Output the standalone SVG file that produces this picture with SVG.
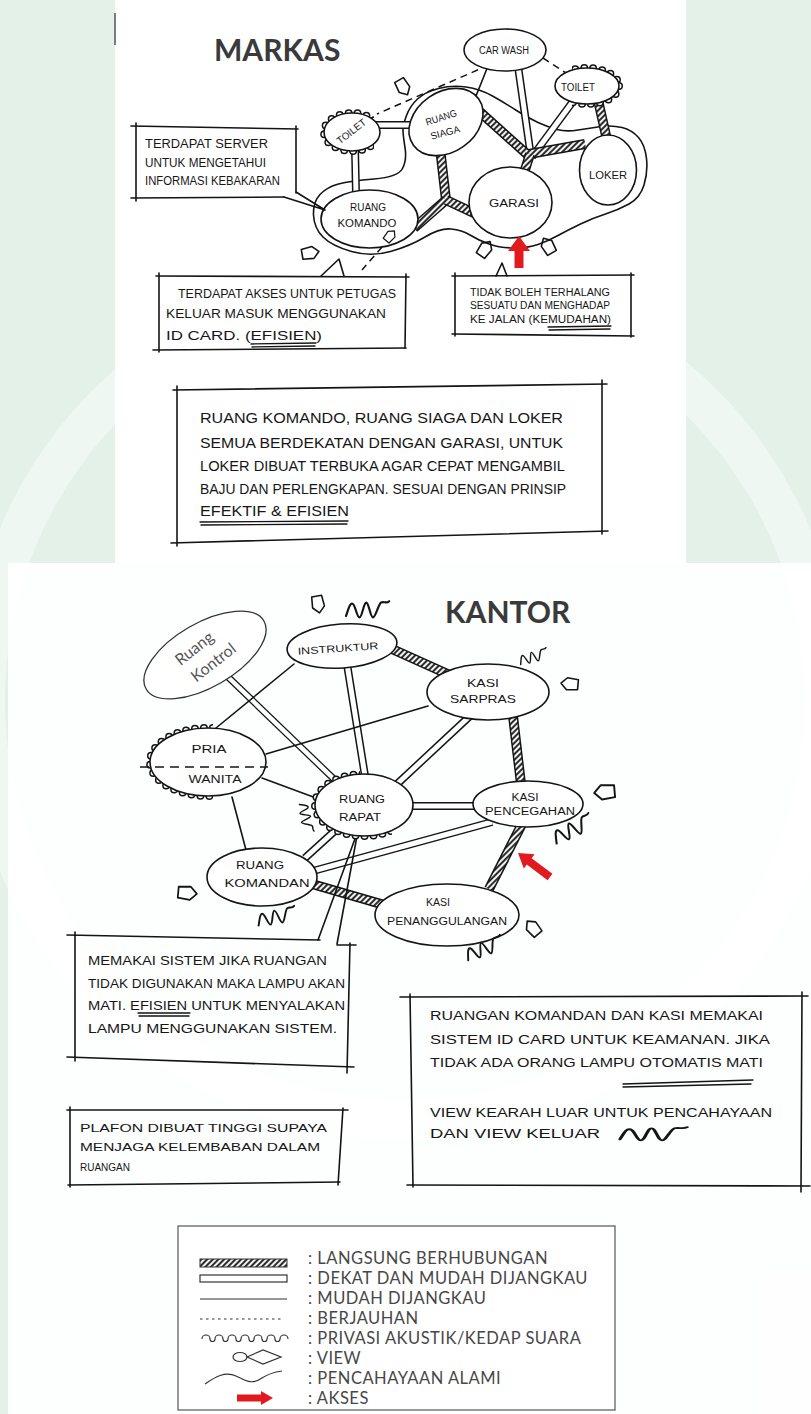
<svg xmlns="http://www.w3.org/2000/svg" width="811" height="1414" viewBox="0 0 811 1414">
<defs>
<style>
.ink{fill:none;stroke:#141414;stroke-width:1.6;stroke-linecap:round;stroke-linejoin:round}
.thin{fill:none;stroke:#141414;stroke-width:1.3;stroke-linecap:round}
.node{fill:#fff;stroke:#141414;stroke-width:1.6}
.hw{font-family:"Liberation Sans",Arial,sans-serif;fill:#161616}
.title{font-family:Lato,"Open Sans",sans-serif;font-weight:700;fill:#3a3a3a;font-size:30px}
.leg{font-family:Lato,"Open Sans",sans-serif;fill:#474747;font-size:16.5px;letter-spacing:0.5px}
.dO{stroke:#141414;stroke-width:8}
.dI{stroke:#fff;stroke-width:5}
.hO{stroke:#141414;stroke-width:10}
.hI{stroke:url(#hatch);stroke-width:7}
.dash{fill:none;stroke:#141414;stroke-width:1.5;stroke-dasharray:7 5}
.bO{fill:none;stroke:#141414;stroke-width:8;stroke-linecap:round;stroke-dasharray:0 9}
.bI{fill:none;stroke:#fff;stroke-width:5;stroke-linecap:round;stroke-dasharray:0 9}
.red{fill:#e01a1f}
</style>
<pattern id="hatch" width="4" height="4" patternUnits="userSpaceOnUse" patternTransform="rotate(45)">
<rect width="4" height="4" fill="#f2f2f2"/>
<line x1="1" y1="0" x2="1" y2="4" stroke="#222" stroke-width="1.9"/>
</pattern>
<path id="vw" d="M-8,-5 L3,-6 L9,0 L3,6 L-8,5 Z"/>
<path id="sq" d="M0,3 C2,-3 3,-7 5,-6 C7,-5 8,4 10,4 C12,4 13,-7 15,-7 C17,-7 18,4 20,4 C22,4 24,-6 26,-7 C28,-8 30,-6 32,-8"/>
<clipPath id="cTL"><rect x="300" y="100" width="74" height="70"/></clipPath>
<clipPath id="cTR"><rect x="572" y="55" width="60" height="60"/></clipPath>
<clipPath id="cPria"><rect x="130" y="715" width="83" height="95"/></clipPath>
<clipPath id="cRapat"><polygon points="300,765 360,765 360,815 392,815 392,850 300,850"/></clipPath>
</defs>

<!-- background -->
<rect x="0" y="0" width="811" height="1414" fill="#e3f1e8"/>
<circle cx="405" cy="700" r="420" fill="none" stroke="#eef7f1" stroke-width="40"/>
<rect x="115" y="0" width="571" height="563" fill="#fff"/>
<rect x="8" y="563" width="803" height="851" fill="#fff" fill-opacity="0.93"/>
<line x1="115" y1="13" x2="115" y2="45" stroke="#555" stroke-width="1.5"/>

<!-- ================= MARKAS ================= -->
<text class="title" x="214" y="61">MARKAS</text>

<g id="markas-zone">
<path class="ink" d="M405,147.5 Q407,160 402.5,168.5 Q398,177 374,179 Q350,181 338.5,184 Q327,187 320,194.5 Q313,202 313.5,215 Q314,228 323,237 Q332,246 351.5,251.5 Q371,257 390.5,251.5 Q410,246 425,237 Q440,228 451,229 Q462,230 470,235 Q478,240 489,244 Q500,248 514,248 Q528,248 538,244.5 Q548,241 558,235.5 Q568,230 580.5,224 Q593,218 605.5,214 Q618,210 629,204 Q640,198 644,185 Q648,172 646.5,158.5 Q645,145 638.5,137.5 Q632,130 622,127.5 Q612,125 601,126.5 Q590,128 578,130 Q566,132 557,129.5 Q548,127 538,122.5 Q528,118 516.5,110.5 Q505,103 492.5,96 Q480,89 466,87 Q452,85 438.5,88.5 Q425,92 417.5,99 Q410,106 406.5,115.5 Q403,125 403,130 Q403,135 405,147.5 Z"/>
</g>

<g id="markas-connectors">
<line class="dash" x1="489" y1="65" x2="377" y2="114"/>
<line class="dash" x1="543" y1="58" x2="566" y2="73"/>
<line class="ink" x1="488" y1="66" x2="476" y2="96"/>
<line class="dO" x1="518" y1="66" x2="531" y2="157"/>
<line class="dI" x1="518" y1="66" x2="531" y2="157"/>
<line class="dO" x1="574" y1="100" x2="532" y2="157"/>
<line class="dI" x1="574" y1="100" x2="532" y2="157"/>
<line class="dO" x1="376" y1="125" x2="414" y2="125"/>
<line class="dI" x1="376" y1="125" x2="414" y2="125"/>
<line class="dO" x1="355" y1="148" x2="356" y2="194"/>
<line class="dI" x1="355" y1="148" x2="356" y2="194"/>
<line class="hO" x1="598" y1="100" x2="607" y2="140"/>
<line class="hI" x1="598" y1="100" x2="607" y2="140"/>
<line class="hO" x1="480" y1="112" x2="529" y2="156"/>
<line class="hI" x1="480" y1="112" x2="529" y2="156"/>
<line class="hO" x1="529" y1="154" x2="585" y2="144"/>
<line class="hI" x1="529" y1="154" x2="585" y2="144"/>
<line class="hO" x1="530" y1="154" x2="524" y2="173"/>
<line class="hI" x1="530" y1="154" x2="524" y2="173"/>
<line class="hO" x1="440" y1="148" x2="446" y2="200"/>
<line class="hI" x1="440" y1="148" x2="446" y2="200"/>
<line class="hO" x1="446" y1="200" x2="414" y2="228"/>
<line class="hI" x1="446" y1="200" x2="414" y2="228"/>
<line class="hO" x1="446" y1="200" x2="476" y2="214"/>
<line class="hI" x1="446" y1="200" x2="476" y2="214"/>
<line class="dash" x1="390" y1="238" x2="362" y2="270"/>
</g>

<g id="car-wash">
<ellipse class="node" cx="505" cy="50" rx="41" ry="21"/>
<text class="hw" x="504" y="54" font-size="10" text-anchor="middle" textLength="50" lengthAdjust="spacingAndGlyphs">CAR WASH</text>
</g>
<g id="toilet-kanan">
<g clip-path="url(#cTR)"><ellipse class="bO" cx="587" cy="86" rx="32" ry="18"/><ellipse class="bI" cx="587" cy="86" rx="32" ry="18"/></g>
<ellipse class="node" cx="587" cy="86" rx="32" ry="18"/>
<text class="hw" x="578" y="91" font-size="10" text-anchor="middle" textLength="34" lengthAdjust="spacingAndGlyphs">TOILET</text>
</g>
<g id="toilet-kiri">
<g clip-path="url(#cTL)"><ellipse class="bO" cx="352" cy="132" rx="28" ry="19"/><ellipse class="bI" cx="352" cy="132" rx="28" ry="19"/></g>
<ellipse class="node" cx="352" cy="132" rx="28" ry="19"/>
<text class="hw" x="351" y="135" font-size="10" text-anchor="middle" textLength="34" lengthAdjust="spacingAndGlyphs" transform="rotate(-38 351 131)">TOILET</text>
</g>
<g id="ruang-siaga">
<ellipse class="node" cx="446" cy="122" rx="40" ry="30" transform="rotate(-35 446 122)"/>
<text class="hw" x="441" y="121" font-size="10" text-anchor="middle" textLength="32" lengthAdjust="spacingAndGlyphs" transform="rotate(-18 441 117)">RUANG</text>
<text class="hw" x="445" y="136" font-size="10" text-anchor="middle" textLength="30" lengthAdjust="spacingAndGlyphs" transform="rotate(-15 445 132)">SIAGA</text>
</g>
<g id="garasi">
<ellipse class="node" cx="510.5" cy="202.5" rx="41.5" ry="35.5"/>
<text class="hw" x="514" y="207" font-size="11" text-anchor="middle" textLength="50" lengthAdjust="spacingAndGlyphs">GARASI</text>
</g>
<g id="loker">
<ellipse class="node" cx="608" cy="170" rx="28.5" ry="35"/>
<text class="hw" x="608" y="179" font-size="10" text-anchor="middle" textLength="38" lengthAdjust="spacingAndGlyphs">LOKER</text>
</g>
<g id="ruang-komando">
<ellipse class="node" cx="369.5" cy="219" rx="48.5" ry="29"/>
<text class="hw" x="368" y="211" font-size="10" text-anchor="middle" textLength="36" lengthAdjust="spacingAndGlyphs">RUANG</text>
<text class="hw" x="367" y="227" font-size="10" text-anchor="middle" textLength="59" lengthAdjust="spacingAndGlyphs">KOMANDO</text>
</g>

<g id="markas-icons">
<use href="#vw" class="ink" transform="translate(403,87) rotate(60)"/>
<use href="#vw" class="ink" transform="translate(310,253) rotate(-10)"/>
<use href="#vw" class="ink" transform="translate(390,236) rotate(-50) scale(0.75)"/>
<use href="#vw" class="ink" transform="translate(485,249) rotate(-55)"/>
<use href="#vw" class="ink" transform="translate(548,246) rotate(-120)"/>
<polygon class="red" points="519,236 530,251 523.5,251 523.5,268 514.5,268 514.5,251 508,251"/>
</g>

<g id="callout-server">
<line class="ink" x1="131" y1="126" x2="298" y2="129"/>
<line class="ink" x1="136" y1="123" x2="136" y2="201"/>
<line class="ink" x1="296" y1="126" x2="296" y2="193"/>
<line class="ink" x1="131" y1="198" x2="284" y2="197"/>
<polyline class="ink" points="284,197 325,210 296,192"/>
<text class="hw" x="145" y="148" font-size="12" textLength="123" lengthAdjust="spacingAndGlyphs">TERDAPAT  SERVER</text>
<text class="hw" x="145" y="167" font-size="12" textLength="121" lengthAdjust="spacingAndGlyphs">UNTUK MENGETAHUI</text>
<text class="hw" x="145" y="185" font-size="12" textLength="135" lengthAdjust="spacingAndGlyphs">INFORMASI KEBAKARAN</text>
</g>

<g id="callout-akses">
<line class="ink" x1="156" y1="276" x2="409" y2="277"/>
<line class="ink" x1="159" y1="273" x2="159" y2="352"/>
<line class="ink" x1="406" y1="274" x2="405" y2="348"/>
<line class="ink" x1="153" y1="350" x2="406" y2="348"/>
<polyline class="ink" points="321,276 339,259 344,276"/>
<text class="hw" x="178" y="298" font-size="13" textLength="218" lengthAdjust="spacingAndGlyphs">TERDAPAT AKSES UNTUK PETUGAS</text>
<text class="hw" x="166" y="318" font-size="13" textLength="220" lengthAdjust="spacingAndGlyphs">KELUAR MASUK MENGGUNAKAN</text>
<text class="hw" x="166" y="340" font-size="13" textLength="156" lengthAdjust="spacingAndGlyphs">ID CARD. (EFISIEN)</text>
<line class="thin" x1="251" y1="344" x2="316" y2="343"/>
<line class="thin" x1="252" y1="347" x2="315" y2="346"/>
</g>

<g id="callout-jalan">
<line class="ink" x1="452" y1="276" x2="634" y2="275"/>
<line class="ink" x1="455" y1="273" x2="455" y2="336"/>
<line class="ink" x1="631" y1="273" x2="631" y2="337"/>
<line class="ink" x1="452" y1="334" x2="634" y2="336"/>
<polyline class="ink" points="496,276 502,263 507,276"/>
<text class="hw" x="470" y="296" font-size="10" textLength="140" lengthAdjust="spacingAndGlyphs">TIDAK BOLEH TERHALANG</text>
<text class="hw" x="470" y="309" font-size="10" textLength="140" lengthAdjust="spacingAndGlyphs">SESUATU DAN MENGHADAP</text>
<text class="hw" x="470" y="323" font-size="10" textLength="141" lengthAdjust="spacingAndGlyphs">KE JALAN (KEMUDAHAN)</text>
<line class="thin" x1="548" y1="327" x2="611" y2="326"/>
<line class="thin" x1="549" y1="330" x2="610" y2="329"/>
</g>

<g id="catatan-markas">
<line class="ink" x1="173" y1="390" x2="607" y2="384"/>
<line class="ink" x1="177" y1="386" x2="177" y2="546"/>
<line class="ink" x1="602" y1="380" x2="602" y2="534"/>
<line class="ink" x1="171" y1="543" x2="608" y2="531"/>
<text class="hw" x="200" y="423" font-size="15" textLength="363" lengthAdjust="spacingAndGlyphs">RUANG KOMANDO, RUANG  SIAGA DAN LOKER</text>
<text class="hw" x="200" y="448" font-size="15" textLength="363" lengthAdjust="spacingAndGlyphs">SEMUA BERDEKATAN DENGAN GARASI, UNTUK</text>
<text class="hw" x="200" y="471" font-size="15" textLength="365" lengthAdjust="spacingAndGlyphs">LOKER DIBUAT TERBUKA AGAR CEPAT MENGAMBIL</text>
<text class="hw" x="200" y="494" font-size="15" textLength="366" lengthAdjust="spacingAndGlyphs">BAJU DAN PERLENGKAPAN. SESUAI DENGAN PRINSIP</text>
<text class="hw" x="200" y="516" font-size="15" textLength="149" lengthAdjust="spacingAndGlyphs">EFEKTIF &amp; EFISIEN</text>
<line class="thin" x1="200" y1="522" x2="348" y2="521"/>
<line class="thin" x1="201" y1="525" x2="347" y2="524"/>
</g>

<!-- ================= KANTOR ================= -->
<text class="title" x="445" y="623">KANTOR</text>

<g id="kantor-connectors">
<line class="dO" x1="228" y1="677" x2="337" y2="782" style="stroke-width:7"/>
<line class="dI" x1="228" y1="677" x2="337" y2="782" style="stroke-width:4.5"/>
<line class="ink" x1="294" y1="664" x2="216" y2="728"/>
<line class="dO" x1="347" y1="664" x2="365" y2="776"/>
<line class="dI" x1="347" y1="664" x2="365" y2="776"/>
<line class="hO" x1="392" y1="649" x2="452" y2="676"/>
<line class="hI" x1="392" y1="649" x2="452" y2="676"/>
<line class="ink" x1="428" y1="706" x2="266" y2="754"/>
<line class="dO" x1="470" y1="716" x2="396" y2="785"/>
<line class="dI" x1="470" y1="716" x2="396" y2="785"/>
<line class="hO" x1="513" y1="716" x2="521" y2="784"/>
<line class="hI" x1="513" y1="716" x2="521" y2="784"/>
<line class="ink" x1="262" y1="778" x2="316" y2="798"/>
<line class="ink" x1="232" y1="797" x2="246" y2="850"/>
<line class="dO" x1="410" y1="806" x2="476" y2="806"/>
<line class="dI" x1="410" y1="806" x2="476" y2="806"/>
<line class="dO" x1="338" y1="828" x2="305" y2="858"/>
<line class="dI" x1="338" y1="828" x2="305" y2="858"/>
<line class="dO" x1="313" y1="871" x2="492" y2="822"/>
<line class="dI" x1="313" y1="871" x2="492" y2="822"/>
<line class="hO" x1="312" y1="884" x2="388" y2="906"/>
<line class="hI" x1="312" y1="884" x2="388" y2="906"/>
<line class="hO" x1="522" y1="824" x2="489" y2="889"/>
<line class="hI" x1="522" y1="824" x2="489" y2="889"/>
<line class="ink" x1="356" y1="836" x2="318" y2="940"/>
<line class="ink" x1="357" y1="836" x2="337" y2="944"/>
</g>

<g id="ruang-kontrol">
<ellipse cx="205" cy="655" rx="68" ry="32" transform="rotate(-30 205 655)" fill="#fff" stroke="#333" stroke-width="1.3"/>
<text x="194" y="654" font-family="Lato,'Open Sans',sans-serif" font-size="16" fill="#555" text-anchor="middle" transform="rotate(-38 194 648)">Ruang</text>
<text x="213" y="668" font-family="Lato,'Open Sans',sans-serif" font-size="16" fill="#555" text-anchor="middle" transform="rotate(-38 213 662)">Kontrol</text>
</g>
<g id="instruktur">
<ellipse class="node" cx="342" cy="646" rx="55" ry="22" transform="rotate(-4 342 646)"/>
<text class="hw" x="338" y="652" font-size="10" text-anchor="middle" textLength="81" lengthAdjust="spacingAndGlyphs" transform="rotate(-4 338 648)">INSTRUKTUR</text>
</g>
<g id="kasi-sarpras">
<ellipse class="node" cx="488" cy="692" rx="61" ry="28"/>
<text class="hw" x="483" y="687" font-size="11" text-anchor="middle" textLength="32" lengthAdjust="spacingAndGlyphs">KASI</text>
<text class="hw" x="483" y="703" font-size="11" text-anchor="middle" textLength="66" lengthAdjust="spacingAndGlyphs">SARPRAS</text>
</g>
<g id="pria-wanita">
<g clip-path="url(#cPria)"><ellipse class="bO" cx="208" cy="762" rx="58" ry="34"/><ellipse class="bI" cx="208" cy="762" rx="58" ry="34"/></g>
<ellipse class="node" cx="208" cy="762" rx="58" ry="34"/>
<line x1="140" y1="767" x2="268" y2="767" stroke="#141414" stroke-width="1.5" stroke-dasharray="9 6"/>
<text class="hw" x="209" y="753" font-size="11" text-anchor="middle" textLength="35" lengthAdjust="spacingAndGlyphs">PRIA</text>
<text class="hw" x="215" y="783" font-size="11" text-anchor="middle" textLength="53" lengthAdjust="spacingAndGlyphs">WANITA</text>
</g>
<g id="ruang-rapat">
<g clip-path="url(#cRapat)"><ellipse class="bO" cx="364" cy="805" rx="49" ry="31"/><ellipse class="bI" cx="364" cy="805" rx="49" ry="31"/></g>
<ellipse class="node" cx="364" cy="805" rx="49" ry="31"/>
<text class="hw" x="362" y="803" font-size="11" text-anchor="middle" textLength="46" lengthAdjust="spacingAndGlyphs">RUANG</text>
<text class="hw" x="360" y="821" font-size="11" text-anchor="middle" textLength="42" lengthAdjust="spacingAndGlyphs">RAPAT</text>
</g>
<g id="kasi-pencegahan">
<ellipse class="node" cx="528" cy="804" rx="55" ry="23"/>
<text class="hw" x="525" y="801" font-size="10" text-anchor="middle" textLength="27" lengthAdjust="spacingAndGlyphs">KASI</text>
<text class="hw" x="530" y="815" font-size="10" text-anchor="middle" textLength="90" lengthAdjust="spacingAndGlyphs">PENCEGAHAN</text>
</g>
<g id="ruang-komandan">
<ellipse class="node" cx="262" cy="877" rx="55" ry="29"/>
<text class="hw" x="260" y="869" font-size="11" text-anchor="middle" textLength="48" lengthAdjust="spacingAndGlyphs">RUANG</text>
<text class="hw" x="267" y="887" font-size="11" text-anchor="middle" textLength="85" lengthAdjust="spacingAndGlyphs">KOMANDAN</text>
</g>
<g id="kasi-penanggulangan">
<ellipse class="node" cx="447" cy="915" rx="72" ry="31"/>
<text class="hw" x="438" y="906" font-size="10" text-anchor="middle" textLength="24" lengthAdjust="spacingAndGlyphs">KASI</text>
<text class="hw" x="447" y="925" font-size="10" text-anchor="middle" textLength="120" lengthAdjust="spacingAndGlyphs">PENANGGULANGAN</text>
</g>

<g id="kantor-icons">
<use href="#vw" class="ink" transform="translate(318,604) rotate(80)"/>
<use href="#vw" class="ink" transform="translate(570,684) rotate(185)"/>
<use href="#vw" class="ink" transform="translate(605,792) rotate(175) scale(1.2)"/>
<use href="#vw" class="ink" transform="translate(187,893) rotate(5) scale(1.1)"/>
<use href="#vw" class="ink" transform="translate(533,928) rotate(-130)"/>
<use href="#sq" class="ink" transform="translate(346,612) scale(1.35)"/>
<use href="#sq" class="ink" transform="translate(520,662) rotate(-15) scale(0.9)"/>
<use href="#sq" class="ink" transform="translate(555,840) rotate(-25) scale(1.3)"/>
<use href="#sq" class="ink" transform="translate(302,804) rotate(80) scale(0.9)"/>
<use href="#sq" class="ink" transform="translate(258,922) rotate(-10) scale(1.2)"/>
<use href="#sq" class="ink" transform="translate(467,957) rotate(-20) scale(1.2)"/>
<polygon class="red" points="0,0 14,-9 14,-4 40,-4 40,4 14,4 14,9" transform="translate(518,853) rotate(36.87)"/>
</g>

<g id="catatan-sistem">
<line class="ink" x1="67" y1="935" x2="320" y2="940"/>
<line class="ink" x1="337" y1="945" x2="356" y2="945"/>
<line class="ink" x1="75" y1="932" x2="75" y2="1061"/>
<line class="ink" x1="350" y1="943" x2="347" y2="1073"/>
<line class="ink" x1="67" y1="1057" x2="354" y2="1067"/>
<text class="hw" x="88" y="965" font-size="12" textLength="239" lengthAdjust="spacingAndGlyphs">MEMAKAI SISTEM JIKA RUANGAN</text>
<text class="hw" x="88" y="988" font-size="12" textLength="257" lengthAdjust="spacingAndGlyphs">TIDAK DIGUNAKAN MAKA LAMPU AKAN</text>
<text class="hw" x="88" y="1010" font-size="12" textLength="257" lengthAdjust="spacingAndGlyphs">MATI. EFISIEN UNTUK MENYALAKAN</text>
<text class="hw" x="88" y="1033" font-size="12" textLength="249" lengthAdjust="spacingAndGlyphs">LAMPU MENGGUNAKAN SISTEM.</text>
<line class="thin" x1="138" y1="1013" x2="190" y2="1013"/>
<line class="thin" x1="139" y1="1016" x2="189" y2="1016"/>
</g>

<g id="catatan-plafon">
<line class="ink" x1="67" y1="1110" x2="348" y2="1110"/>
<line class="ink" x1="70" y1="1107" x2="70" y2="1187"/>
<line class="ink" x1="343" y1="1108" x2="338" y2="1185"/>
<line class="ink" x1="68" y1="1185" x2="340" y2="1182"/>
<text class="hw" x="80" y="1132" font-size="11" textLength="247" lengthAdjust="spacingAndGlyphs">PLAFON DIBUAT TINGGI  SUPAYA</text>
<text class="hw" x="80" y="1151" font-size="11" textLength="240" lengthAdjust="spacingAndGlyphs">MENJAGA KELEMBABAN  DALAM</text>
<text class="hw" x="80" y="1171" font-size="11" textLength="50" lengthAdjust="spacingAndGlyphs">RUANGAN</text>
</g>

<g id="catatan-kantor">
<line class="ink" x1="400" y1="997" x2="808" y2="996"/>
<line class="ink" x1="410" y1="994" x2="413" y2="1187"/>
<line class="ink" x1="802" y1="992" x2="801" y2="1192"/>
<line class="ink" x1="407" y1="1185" x2="810" y2="1186"/>
<text class="hw" x="430" y="1020" font-size="12" textLength="333" lengthAdjust="spacingAndGlyphs">RUANGAN KOMANDAN DAN KASI MEMAKAI</text>
<text class="hw" x="430" y="1044" font-size="12" textLength="340" lengthAdjust="spacingAndGlyphs">SISTEM ID CARD UNTUK KEAMANAN. JIKA</text>
<text class="hw" x="430" y="1067" font-size="12" textLength="333" lengthAdjust="spacingAndGlyphs">TIDAK ADA ORANG LAMPU OTOMATIS MATI</text>
<line class="thin" x1="623" y1="1084" x2="753" y2="1080"/>
<line class="thin" x1="623" y1="1087" x2="751" y2="1084"/>
<text class="hw" x="430" y="1117" font-size="12" textLength="342" lengthAdjust="spacingAndGlyphs">VIEW KEARAH LUAR UNTUK PENCAHAYAAN</text>
<text class="hw" x="430" y="1138" font-size="12" textLength="170" lengthAdjust="spacingAndGlyphs">DAN VIEW KELUAR</text>
<use href="#sq" class="ink" transform="translate(620,1136) scale(2.1,1.1)"/>
</g>

<g id="legenda">
<rect x="178" y="1226" width="437" height="184" fill="#fff" stroke="#555" stroke-width="1.2"/>
<rect x="200" y="1259" width="87" height="8" fill="url(#hatch)" stroke="#333" stroke-width="1"/>
<rect x="200" y="1275" width="87" height="7" fill="none" stroke="#333" stroke-width="1.2"/>
<line x1="200" y1="1299" x2="287" y2="1299" stroke="#333" stroke-width="1.2"/>
<line x1="200" y1="1319" x2="283" y2="1319" stroke="#333" stroke-width="1" stroke-dasharray="2.5 3.5"/>
<path d="M202,1339 a4,4 0 0 1 8,0 a2.5,2.5 0 0 0 5,0 a4,4 0 0 1 8,0 a2.5,2.5 0 0 0 5,0 a4,4 0 0 1 8,0 a2.5,2.5 0 0 0 5,0 a4,4 0 0 1 8,0 a2.5,2.5 0 0 0 5,0 a4,4 0 0 1 8,0 a2.5,2.5 0 0 0 5,0 a4,4 0 0 1 8,0 a2.5,2.5 0 0 0 5,0 a4,4 0 0 1 8,0" fill="none" stroke="#333" stroke-width="1.2"/>
<ellipse cx="240" cy="1357" rx="7" ry="4.5" fill="none" stroke="#333" stroke-width="1.2"/>
<path d="M247,1357 L263,1350 L281,1357 L263,1364 Z" fill="none" stroke="#333" stroke-width="1.2"/>
<path d="M205,1384 C215,1377 225,1371 236,1376 C246,1381 252,1385 262,1378 C268,1374 275,1372 282,1371" fill="none" stroke="#333" stroke-width="1.2"/>
<polygon class="red" points="273,1398 261,1391 261,1394.5 237,1394.5 237,1401.5 261,1401.5 261,1405"/>
<text class="leg" x="308" y="1264">: LANGSUNG BERHUBUNGAN</text>
<text class="leg" x="308" y="1284">: DEKAT DAN MUDAH DIJANGKAU</text>
<text class="leg" x="308" y="1304">: MUDAH DIJANGKAU</text>
<text class="leg" x="308" y="1324">: BERJAUHAN</text>
<text class="leg" x="308" y="1344">: PRIVASI AKUSTIK/KEDAP SUARA</text>
<text class="leg" x="308" y="1364">: VIEW</text>
<text class="leg" x="308" y="1384">: PENCAHAYAAN ALAMI</text>
<text class="leg" x="308" y="1404">: AKSES</text>
</g>
</svg>
